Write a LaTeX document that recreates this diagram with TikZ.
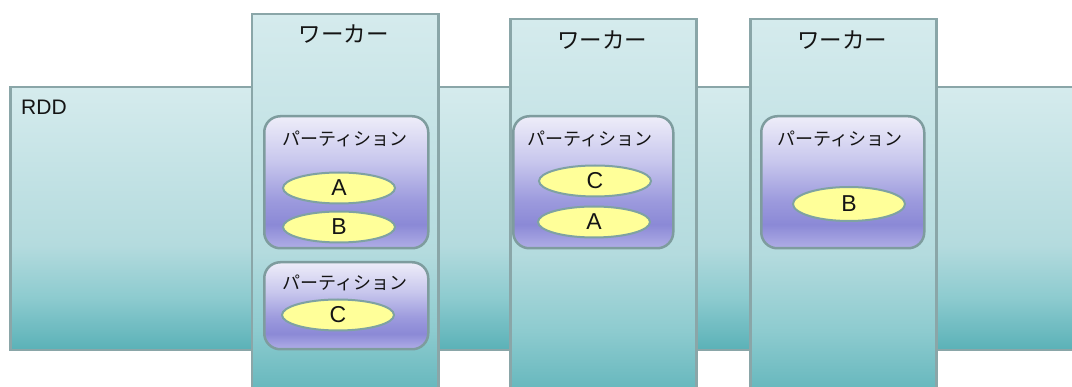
\documentclass[tikz,border=0pt]{standalone}
\usepackage{fontspec}
\setmainfont{Liberation Sans}
\newfontfamily\jp{Noto Sans CJK JP}
\usetikzlibrary{shapes.geometric}
\definecolor{bord}{HTML}{8AA6A8}
\definecolor{partbord}{HTML}{7E9C9E}
\definecolor{ellbord}{HTML}{7FA2A2}
\definecolor{ellfill}{HTML}{FFFF99}
\definecolor{txt}{HTML}{141414}
\definecolor{tA}{HTML}{5AB1B7}
\definecolor{tB}{HTML}{8DCBCF}
\definecolor{tC}{HTML}{B4DBDE}
\definecolor{tD}{HTML}{D5EBED}
\definecolor{pA}{HTML}{B0AEE6}
\definecolor{pB}{HTML}{8B89D6}
\definecolor{pC}{HTML}{9C9ADD}
\definecolor{pD}{HTML}{C8C7ED}
\definecolor{pE}{HTML}{EEEDF9}
\pgfdeclareverticalshading{tealshade}{100bp}{color(0bp)=(tA); color(25bp)=(tA); color(35bp)=(tB); color(45bp)=(tC); color(75bp)=(tD); color(100bp)=(tD)}
\pgfdeclareverticalshading{partshade}{100bp}{color(0bp)=(pA); color(25bp)=(pA); color(34bp)=(pB); color(43bp)=(pC); color(58bp)=(pD); color(75bp)=(pE); color(100bp)=(pE)}
\begin{document}
\begin{tikzpicture}[x=1pt,y=-1pt,
  box/.style={draw=bord, line width=2.5pt, shade, shading=tealshade, inner sep=0pt, anchor=north west},
  part/.style={draw=partbord, line width=2.5pt, rounded corners=16pt, shade, shading=partshade, inner sep=0pt, anchor=north west},
  item/.style={ellipse, draw=ellbord, line width=2pt, fill=ellfill, inner sep=0pt, minimum width=112pt, minimum height=31pt, text=txt, font=\fontsize{23}{23}\selectfont},
  wtitle/.style={font=\jp\fontsize{22.5}{22.5}\selectfont, text=txt},
  ptitle/.style={font=\jp\fontsize{18}{18}\selectfont, text=txt}]
\useasboundingbox (0,0) rectangle (1072,387);
\clip (0,0) rectangle (1072,387);
% RDD
\node[box, minimum width=1080pt, minimum height=263pt] (rdd) at (9,86) {};
\node[anchor=west, text=txt, font=\fontsize{21}{21}\selectfont, inner sep=0pt] (rddlabel) at (21,107) {RDD};
% workers
\node[box, minimum width=186.5pt, minimum height=395pt] (w1) at (250.5,13) {};
\node[box, minimum width=186pt, minimum height=390pt] (w2) at (509,18) {};
\node[box, minimum width=186pt, minimum height=390pt] (w3) at (749,18) {};
\node[wtitle] (w1t) at (343.5,34) {ワーカー};
\node[wtitle] (w2t) at (602,40) {ワーカー};
\node[wtitle] (w3t) at (842,40) {ワーカー};
% partitions
\node[part, minimum width=164pt, minimum height=132pt] (p1) at (263,115) {};
\node[part, minimum width=164pt, minimum height=87pt] (p2) at (263,261) {};
\node[part, minimum width=160pt, minimum height=132pt] (p3) at (512,115) {};
\node[part, minimum width=163pt, minimum height=132pt] (p4) at (760,115) {};
\node[ptitle] (p1t) at (345,139) {パーティション};
\node[ptitle] (p2t) at (345,283) {パーティション};
\node[ptitle] (p3t) at (590,139) {パーティション};
\node[ptitle] (p4t) at (840,139) {パーティション};
% items
\node[item] (a1) at (339,188) {A};
\node[item] (b1) at (339,227) {B};
\node[item] (c1) at (338,315) {C};
\node[item] (c2) at (595,181) {C};
\node[item] (a2) at (594,222) {A};
\node[item, minimum height=34pt] (b3) at (849,204) {B};
\end{tikzpicture}
\end{document}
